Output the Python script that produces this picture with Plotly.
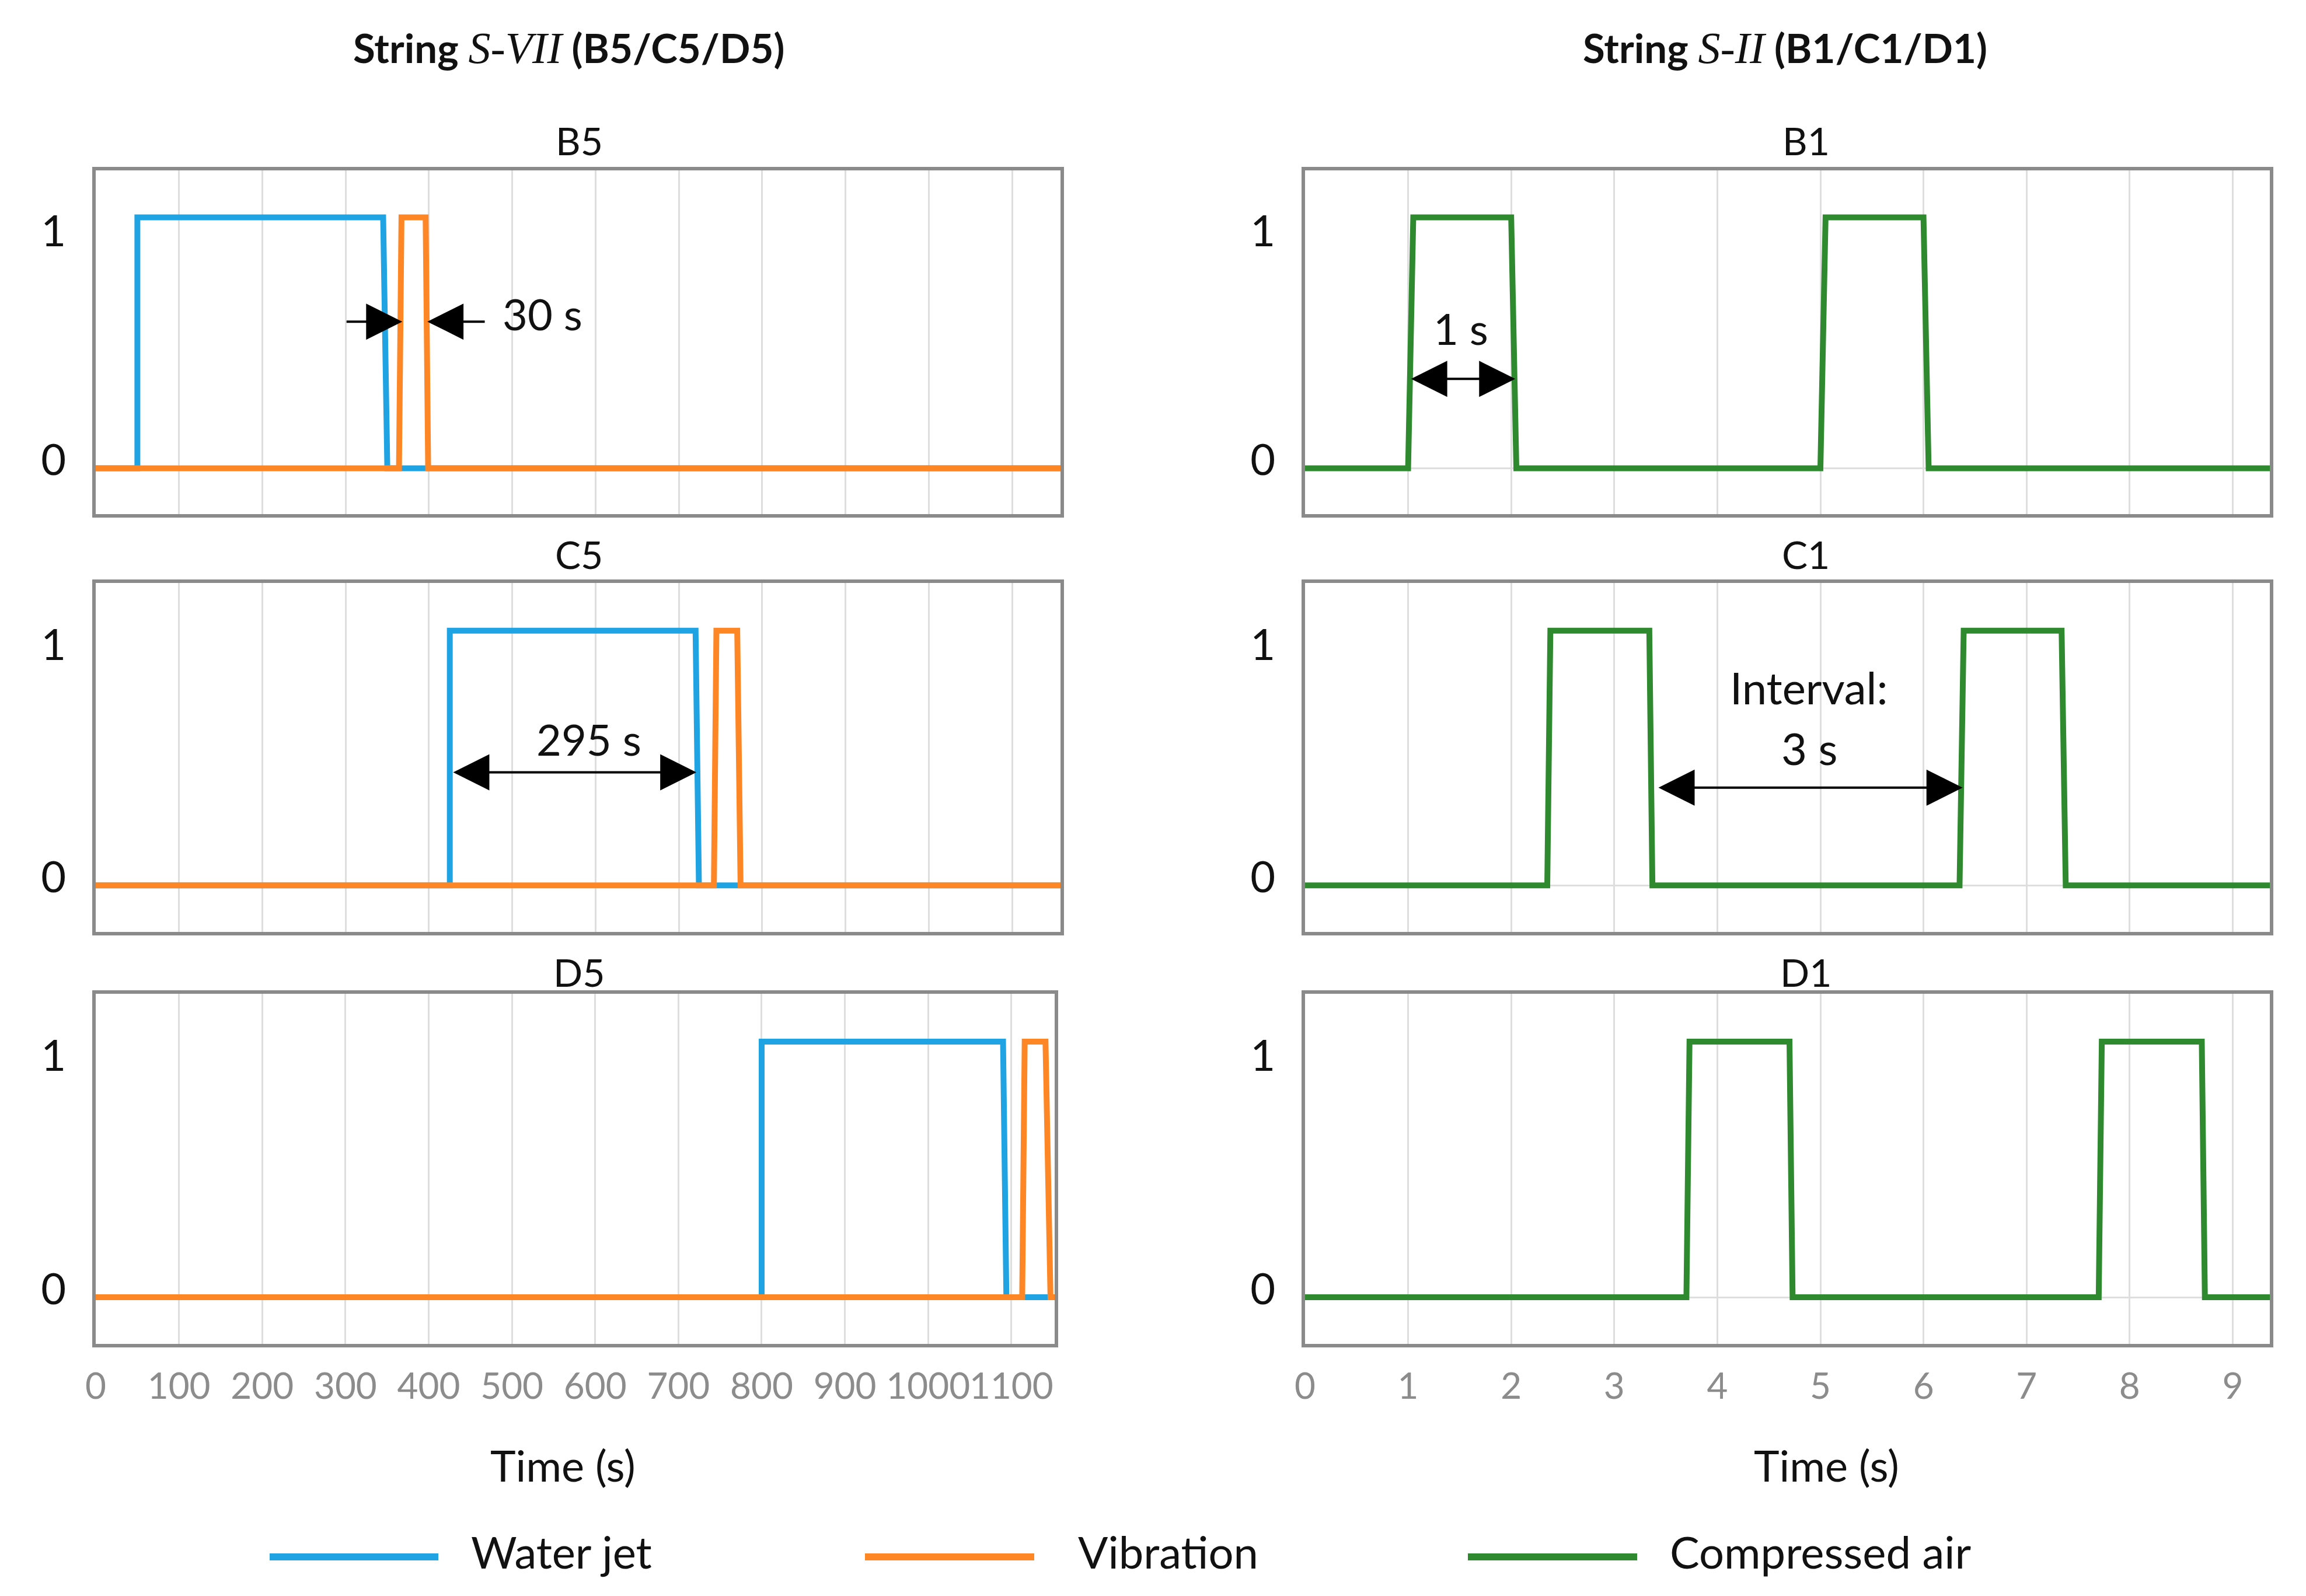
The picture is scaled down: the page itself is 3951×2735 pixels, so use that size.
import plotly.graph_objects as go

# ---------------- data ----------------
# String S-VII (left column), time in s, state (on level drawn slightly above 1)
t_b5_water = [0, 50, 50, 345, 350, 1158]
s_b5_water = [0, 0, 1.095, 1.095, 0, 0]
t_b5_vib = [0, 364, 367, 396, 399, 1158]
s_b5_vib = [0, 0, 1.095, 1.095, 0, 0]

t_c5_water = [0, 425, 425, 720, 724, 1158]
s_c5_water = [0, 0, 1.095, 1.095, 0, 0]
t_c5_vib = [0, 742, 745, 770, 774, 1158]
s_c5_vib = [0, 0, 1.095, 1.095, 0, 0]

t_d5_water = [0, 800, 800, 1090, 1094, 1152]
s_d5_water = [0, 0, 1.095, 1.095, 0, 0]
t_d5_vib = [0, 1113, 1116, 1141, 1147, 1152]
s_d5_vib = [0, 0, 1.095, 1.095, 0, 0]

# String S-II (right column)
t_b1_air = [0, 1.0, 1.05, 2.0, 2.05, 5.0, 5.05, 6.0, 6.05, 9.36]
s_b1_air = [0, 0, 1.095, 1.095, 0, 0, 1.095, 1.095, 0, 0]
t_c1_air = [0, 2.35, 2.38, 3.34, 3.37, 6.35, 6.39, 7.34, 7.38, 9.36]
s_c1_air = [0, 0, 1.095, 1.095, 0, 0, 1.095, 1.095, 0, 0]
t_d1_air = [0, 3.70, 3.73, 4.70, 4.73, 7.70, 7.73, 8.70, 8.73, 9.36]
s_d1_air = [0, 0, 1.095, 1.095, 0, 0, 1.095, 1.095, 0, 0]

left_ticks = [0, 100, 200, 300, 400, 500, 600, 700, 800, 900, 1000, 1100]
right_ticks = [0, 1, 2, 3, 4, 5, 6, 7, 8, 9]
y_ticks = [0, 1]
panel_names = ["B5", "C5", "D5", "B1", "C1", "D1"]
series_names = ["Water jet", "Vibration", "Compressed air"]

# ---------------- style ----------------
W, H = 3951, 2735
BLUE = "#1fa3e3"
ORANGE = "#ff8625"
GREEN = "#2f8a2f"
FRAME = "#8a8a8a"
GRID = "#dedede"
FONT = "Lato"
LW = 10
YS = 10   # small upward nudge for paper text
YSD = 14  # upward nudge for in-plot text


def px(x):
    return x / W


def py(y):
    return 1 - y / H


fig = go.Figure()

traces = [
    (t_b5_water, s_b5_water, BLUE, "x", "y", series_names[0]),
    (t_b5_vib, s_b5_vib, ORANGE, "x", "y", series_names[1]),
    (t_c5_water, s_c5_water, BLUE, "x2", "y2", series_names[0]),
    (t_c5_vib, s_c5_vib, ORANGE, "x2", "y2", series_names[1]),
    (t_d5_water, s_d5_water, BLUE, "x3", "y3", series_names[0]),
    (t_d5_vib, s_d5_vib, ORANGE, "x3", "y3", series_names[1]),
    (t_b1_air, s_b1_air, GREEN, "x4", "y4", series_names[2]),
    (t_c1_air, s_c1_air, GREEN, "x5", "y5", series_names[2]),
    (t_d1_air, s_d1_air, GREEN, "x6", "y6", series_names[2]),
]
for tx, sy, col, xa, ya, nm in traces:
    fig.add_trace(go.Scatter(x=tx, y=sy, mode="lines", name=nm, xaxis=xa, yaxis=ya,
                             line=dict(color=col, width=LW), showlegend=False,
                             hoverinfo="skip"))

row_dom = {
    "B": [py(873), py(284)],
    "C": [py(1589), py(991)],
    "D": [py(2295), py(1695)],
}
left_dom = [px(156), px(1809)]
left_dom_d = [px(156), px(1799)]
right_dom = [px(2228), px(3881)]

xcommon = dict(showline=True, mirror=True, linecolor=FRAME, linewidth=6,
               showgrid=True, gridcolor=GRID, gridwidth=3, zeroline=False,
               ticks="", automargin=False, fixedrange=True, tickangle=0,
               tickfont=dict(family=FONT, size=62, color="#8c8c8c"),
               ticklabelstandoff=14)
ycommon = dict(showline=True, mirror=True, linecolor=FRAME, linewidth=6,
               showgrid=False, zeroline=True, zerolinecolor=GRID, zerolinewidth=3,
               range=[-0.2, 1.3], tickmode="array", tickvals=y_ticks,
               ticktext=[str(v) for v in y_ticks], ticks="", automargin=False,
               fixedrange=True, ticklabelstandoff=30, ticklabelshift=-14,
               tickfont=dict(family=FONT, size=74, color="#111111"))

axes_cfg = [
    ("", left_dom, row_dom["B"], [0, 1158], left_ticks, False),
    ("2", left_dom, row_dom["C"], [0, 1158], left_ticks, False),
    ("3", left_dom_d, row_dom["D"], [0, 1152], left_ticks, True),
    ("4", right_dom, row_dom["B"], [0, 9.36], right_ticks, False),
    ("5", right_dom, row_dom["C"], [0, 9.36], right_ticks, False),
    ("6", right_dom, row_dom["D"], [0, 9.36], right_ticks, True),
]
layout_axes = {}
for sfx, xd, yd, xr, tv, showlab in axes_cfg:
    layout_axes["xaxis" + sfx] = dict(xcommon, domain=xd, range=xr, tickmode="array",
                                      tickvals=tv, ticktext=[str(v) for v in tv],
                                      showticklabels=showlab,
                                      anchor="y" + sfx)
    layout_axes["yaxis" + sfx] = dict(ycommon, domain=yd, anchor="x" + sfx)

fig.update_layout(**layout_axes)

ann = []
txt = dict(family=FONT, color="#111111")
C = dict(xanchor="center", yanchor="middle", showarrow=False, yshift=YS)
CD = dict(C, yshift=YSD)

# column titles
ann.append(dict(C, xref="paper", yref="paper", x=px(966), y=py(84),
                text="<b>String </b><span style=\"font-family:Liberation Serif;font-size:76px\"><i>S-VII</i></span><b> (B5/C5/D5)</b>",
                font=dict(txt, size=69)))
ann.append(dict(C, xref="paper", yref="paper", x=px(3050), y=py(84),
                text="<b>String </b><span style=\"font-family:Liberation Serif;font-size:76px\"><i>S-II</i></span><b> (B1/C1/D1)</b>",
                font=dict(txt, size=69)))

# panel titles
for nm, (xc, yc) in zip(panel_names, [(984, 243), (984, 951), (984, 1667),
                                      (3086, 243), (3086, 951), (3086, 1667)]):
    ann.append(dict(C, xref="paper", yref="paper", x=px(xc), y=py(yc), text=nm,
                    font=dict(txt, size=66)))

# axis titles
for xc in (956, 3121):
    ann.append(dict(C, xref="paper", yref="paper", x=px(xc), y=py(2512), text="Time (s)",
                    font=dict(txt, size=74)))

# dimension arrows
ARW = dict(showarrow=True, arrowhead=2, arrowsize=3.1, arrowwidth=4, arrowcolor="#000000",
           standoff=0, startstandoff=0, text="")
ann.append(dict(ARW, xref="x", yref="y", axref="x", ayref="y", x=368, y=0.64, ax=300, ay=0.64))
ann.append(dict(ARW, xref="x", yref="y", axref="x", ayref="y", x=398, y=0.64, ax=468, ay=0.64))
ann.append(dict(CD, xref="x", yref="y", x=536, y=0.64, text="30 s", font=dict(txt, size=74)))

ann.append(dict(ARW, xref="x2", yref="y2", axref="x2", ayref="y2", x=721, y=0.486, ax=428, ay=0.486,
                arrowside="end+start", startarrowhead=2, startarrowsize=3.1))
ann.append(dict(CD, xref="x2", yref="y2", x=592, y=0.594, text="295 s", font=dict(txt, size=74)))

ann.append(dict(ARW, xref="x4", yref="y4", axref="x4", ayref="y4", x=2.04, y=0.39, ax=1.02, ay=0.39,
                arrowside="end+start", startarrowhead=2, startarrowsize=3.1))
ann.append(dict(CD, xref="x4", yref="y4", x=1.51, y=0.575, text="1 s", font=dict(txt, size=74)))

ann.append(dict(ARW, xref="x5", yref="y5", axref="x5", ayref="y5", x=6.38, y=0.42, ax=3.42, ay=0.42,
                arrowside="end+start", startarrowhead=2, startarrowsize=3.1))
ann.append(dict(CD, xref="x5", yref="y5", x=4.89, y=0.817, text="Interval:", font=dict(txt, size=76)))
ann.append(dict(CD, xref="x5", yref="y5", x=4.89, y=0.556, text="3 s", font=dict(txt, size=76)))

# custom legend
shapes = []
legend_items = [(454, 743, 797, BLUE, series_names[0]),
                (1474, 1764, 1837, ORANGE, series_names[1]),
                (2507, 2797, 2851, GREEN, series_names[2])]
for x0, x1, xt, col, nm in legend_items:
    shapes.append(dict(type="line", xref="paper", yref="paper", x0=px(x0), x1=px(x1),
                       y0=py(2660), y1=py(2660), line=dict(color=col, width=12)))
    ann.append(dict(C, xref="paper", yref="paper", x=px(xt), y=py(2660), xanchor="left",
                    text=nm, font=dict(txt, size=76)))

fig.update_layout(width=W, height=H, margin=dict(l=0, r=0, t=0, b=0, pad=0),
                  paper_bgcolor="white", plot_bgcolor="white",
                  annotations=ann, shapes=shapes, showlegend=False,
                  font=dict(family=FONT))

fig.write_html("out.html")
